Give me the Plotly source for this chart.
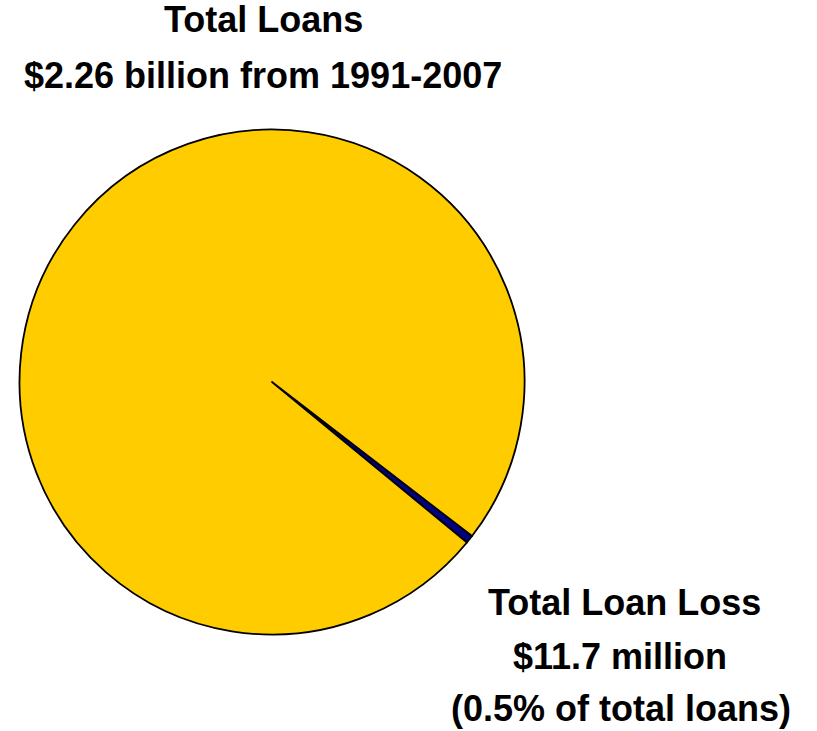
import plotly.graph_objects as go

# Loan totals, millions of US dollars (1991-2007)
total_loans = 2260.0
loan_loss = 11.7

slice_labels = ["Total Loan Loss", "Repaid"]
slice_values = [loan_loss, total_loans - loan_loss]
slice_colors = ["#000080", "#FFCC00"]

title_lines = ["Total Loans", "$2.26 billion from 1991-2007"]
loss_lines = ["Total Loan Loss", "$11.7 million", "(0.5% of total loans)"]

W, H = 817, 731
FONT = dict(family="Liberation Sans, Arial, sans-serif", size=36, color="#000000")


def px_x(x):
    return x / W


def px_y(y):
    return 1 - y / H


cx, cy, r = 272, 382, 252.5

fig = go.Figure(
    go.Pie(
        labels=slice_labels,
        values=slice_values,
        marker=dict(colors=slice_colors, line=dict(color="#000000", width=1.8)),
        sort=False,
        direction="clockwise",
        rotation=127.6,
        textinfo="none",
        hoverinfo="none",
        showlegend=False,
        domain=dict(x=[px_x(cx - r), px_x(cx + r)], y=[px_y(cy + r), px_y(cy - r)]),
    )
)

# heading above the pie, one annotation per line
for text, (x, y) in zip(title_lines, [(263, 20), (262.5, 75.5)]):
    fig.add_annotation(
        text="<b>%s</b>" % text, x=px_x(x), y=px_y(y), xref="paper", yref="paper",
        xanchor="center", yanchor="middle", showarrow=False, font=FONT,
    )

# callout for the loss slice
for text, (x, y) in zip(loss_lines, [(624, 602), (620, 656), (621, 708)]):
    fig.add_annotation(
        text="<b>%s</b>" % text, x=px_x(x), y=px_y(y), xref="paper", yref="paper",
        xanchor="center", yanchor="middle", showarrow=False, font=FONT,
    )

fig.update_layout(
    width=W, height=H,
    margin=dict(l=0, r=0, t=0, b=0),
    paper_bgcolor="#FFFFFF", plot_bgcolor="#FFFFFF",
)

fig.write_html("out.html")
